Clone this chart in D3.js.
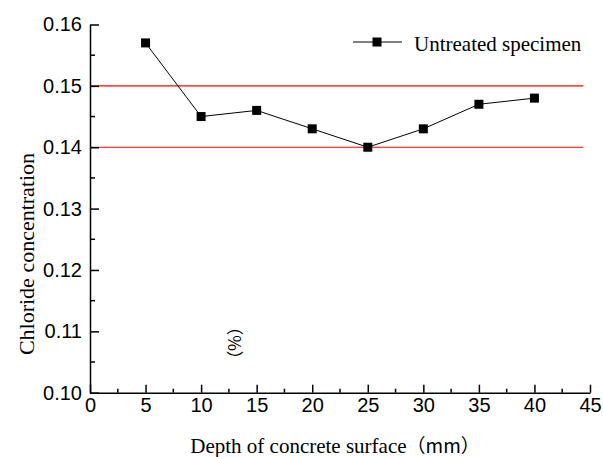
<!DOCTYPE html>
<html>
<head>
<meta charset="utf-8">
<script src="https://cdn.jsdelivr.net/npm/d3@7"></script>
<style>
  html, body { margin: 0; padding: 0; background: #fff; }
  svg { display: block; }
</style>
</head>
<body>
<svg id="chart" width="603" height="457"></svg>
<script>
// ---- data ----
const depths = [5, 10, 15, 20, 25, 30, 35, 40];
const chloride = [0.157, 0.145, 0.146, 0.143, 0.140, 0.143, 0.147, 0.148];
const seriesName = "Untreated specimen";
const refLevels = [0.15, 0.14];
const refLineEnd = 44.4;
const xTicks = [0, 5, 10, 15, 20, 25, 30, 35, 40, 45];
const yTicks = [0.10, 0.11, 0.12, 0.13, 0.14, 0.15, 0.16];
const xMinorTicks = [2.5, 7.5, 12.5, 17.5, 22.5, 27.5, 32.5, 37.5, 42.5];
const yMinorTicks = [0.105, 0.115, 0.125, 0.135, 0.145, 0.155];
const xTitle = "Depth of concrete surface";
const xUnit = "（mm）";
const yTitle = "Chloride concentration";
const yUnit = "（%）";

// ---- layout ----
const svg = d3.select("#chart");
const mLeft = 90, mRight = 590, mTop = 24.5, mBottom = 392.7;
const x = d3.scaleLinear().domain([0, 45]).range([mLeft, mRight]);
const y = d3.scaleLinear().domain([0.10, 0.16]).range([mBottom, mTop]);

const tickFont = "'Liberation Sans', Arial, sans-serif";
const serif = "'Liberation Serif', 'Times New Roman', serif";
const cjk = "'Noto Sans CJK SC', sans-serif";

// reference lines
svg.append("g").selectAll("line").data(refLevels).join("line")
  .attr("x1", x(0)).attr("x2", x(refLineEnd))
  .attr("y1", d => y(d)).attr("y2", d => y(d))
  .attr("stroke", "#ff0000").attr("stroke-width", 1.2);

// axes
const xAxis = d3.axisBottom(x).tickValues(xTicks).tickFormat(d3.format("d"))
  .tickSizeInner(-8).tickSizeOuter(0).tickPadding(5);
const gx = svg.append("g").attr("transform", `translate(0,${mBottom})`).call(xAxis);
gx.selectAll("text").attr("font-family", tickFont).attr("font-size", 20).attr("fill", "#000");
gx.append("g").selectAll("line").data(xMinorTicks).join("line")
  .attr("x1", d => x(d)).attr("x2", d => x(d)).attr("y1", 0).attr("y2", -4)
  .attr("stroke", "#000").attr("stroke-width", 1.5);

const yAxis = d3.axisLeft(y).tickValues(yTicks).tickFormat(d3.format(".2f"))
  .tickSizeInner(-9).tickSizeOuter(0).tickPadding(8);
const gy = svg.append("g").attr("transform", `translate(${mLeft},0)`).call(yAxis);
gy.selectAll("text").attr("font-family", tickFont).attr("font-size", 20).attr("fill", "#000");
gy.append("g").selectAll("line").data(yMinorTicks).join("line")
  .attr("y1", d => y(d)).attr("y2", d => y(d)).attr("x1", 0).attr("x2", 5)
  .attr("stroke", "#000").attr("stroke-width", 1.5);

[gx, gy].forEach(g => {
  g.selectAll(".domain").attr("stroke", "#000").attr("stroke-width", 1.5);
  g.selectAll(".tick line").attr("stroke", "#000").attr("stroke-width", 1.5);
});

// series line
const pts = depths.map((d, i) => [d, chloride[i]]);
svg.append("path").datum(pts)
  .attr("fill", "none").attr("stroke", "#000").attr("stroke-width", 1)
  .attr("d", d3.line().x(d => x(d[0])).y(d => y(d[1])));
svg.append("g").selectAll("rect").data(pts).join("rect")
  .attr("x", d => x(d[0]) - 4.5).attr("y", d => y(d[1]) - 4.5)
  .attr("width", 9).attr("height", 9).attr("fill", "#000");

// legend
const lg = svg.append("g").attr("transform", "translate(353,42)");
lg.append("line").attr("x1", 0).attr("x2", 49).attr("y1", 0).attr("y2", 0)
  .attr("stroke", "#000").attr("stroke-width", 1);
lg.append("rect").attr("x", 24 - 4.5).attr("y", -4.5).attr("width", 9).attr("height", 9).attr("fill", "#000");
lg.append("text").attr("x", 61).attr("y", 9).attr("font-family", serif).attr("font-size", 21)
  .attr("fill", "#000").text(seriesName);

// x title
const xt = svg.append("text").attr("x", 335).attr("y", 453).attr("text-anchor", "middle")
  .attr("font-family", serif).attr("font-size", 21).attr("fill", "#000");
xt.append("tspan").text(xTitle);
xt.append("tspan").attr("font-family", cjk).attr("font-size", 19).text(xUnit);

// y title
svg.append("text").attr("transform", "translate(34,254) rotate(-90)").attr("text-anchor", "middle")
  .attr("font-family", serif).attr("font-size", 22).attr("fill", "#000").text(yTitle);

// stray rotated unit
svg.append("text").attr("transform", "translate(234,343) rotate(90)").attr("text-anchor", "middle")
  .attr("dy", "0.35em")
  .attr("font-family", cjk).attr("font-size", 17).attr("fill", "#000").text(yUnit);
</script>
</body>
</html>
